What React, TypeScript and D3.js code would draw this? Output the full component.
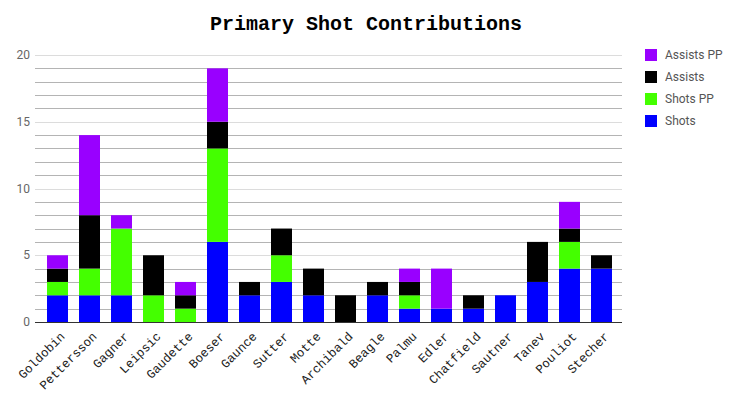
import { useEffect, useRef } from 'react'
import * as d3 from 'd3'

const players = ['Goldobin', 'Pettersson', 'Gagner', 'Leipsic', 'Gaudette', 'Boeser', 'Gaunce', 'Sutter', 'Motte', 'Archibald', 'Beagle', 'Palmu', 'Edler', 'Chatfield', 'Sautner', 'Tanev', 'Pouliot', 'Stecher']
const shots = [2, 2, 2, 0, 0, 6, 2, 3, 2, 0, 2, 1, 1, 1, 2, 3, 4, 4]
const shotsPP = [1, 2, 5, 2, 1, 7, 0, 2, 0, 0, 0, 1, 0, 0, 0, 0, 2, 0]
const assists = [1, 4, 0, 3, 1, 2, 1, 2, 2, 2, 1, 1, 0, 1, 0, 3, 1, 1]
const assistsPP = [1, 6, 1, 0, 1, 4, 0, 0, 0, 0, 0, 1, 3, 0, 0, 0, 2, 0]

const seriesNames = ['Shots', 'Shots PP', 'Assists', 'Assists PP']
const seriesColors = ['#0000ff', '#44ff00', '#000000', '#9900ff']

const W = 737
const H = 399

export default function App() {
  const svgRef = useRef<SVGSVGElement>(null)

  useEffect(() => {
    if (!svgRef.current) return
    const svg = d3.select(svgRef.current)
    svg.selectAll('*').remove()

    const rows = players.map((p, i) => ({
      name: p,
      'Shots': shots[i],
      'Shots PP': shotsPP[i],
      'Assists': assists[i],
      'Assists PP': assistsPP[i],
    }))
    const stacked = d3.stack<any>().keys(seriesNames)(rows)

    const x = d3.scaleBand().domain(players).range([36, 623]).padding(0.344)
    const y = d3.scaleLinear().domain([0, 20]).range([322, 55])

    // gridlines
    const g = svg.append('g')
    g.selectAll('line.grid')
      .data(d3.range(1, 21))
      .join('line')
      .attr('x1', 35)
      .attr('x2', 622)
      .attr('y1', d => Math.round(y(d)) + 0.5)
      .attr('y2', d => Math.round(y(d)) + 0.5)
      .attr('stroke', d => (d % 5 === 0 ? '#dcdcdc' : '#b4b4b4'))
      .attr('stroke-width', 1)

    g.selectAll('text.ytick')
      .data([0, 5, 10, 15, 20])
      .join('text')
      .attr('x', 30)
      .attr('y', d => y(d))
      .attr('dy', '0.35em')
      .attr('text-anchor', 'end')
      .attr('font-family', 'Roboto, sans-serif')
      .attr('font-size', 12)
      .attr('fill', '#666')
      .text(d => d)

    // bars
    g.selectAll('g.layer')
      .data(stacked)
      .join('g')
      .attr('fill', (_, i) => seriesColors[i])
      .selectAll('rect')
      .data(d => d.map(v => ({ v, name: v.data.name })))
      .join('rect')
      .attr('x', d => x(d.name)!)
      .attr('width', x.bandwidth())
      .attr('y', d => y(d.v[1]))
      .attr('height', d => y(d.v[0]) - y(d.v[1]))

    // baseline
    g.append('line')
      .attr('x1', 35)
      .attr('x2', 622)
      .attr('y1', 322.5)
      .attr('y2', 322.5)
      .attr('stroke', '#333')

    // x labels
    g.selectAll('text.xl')
      .data(players)
      .join('text')
      .attr('transform', d => `translate(${x(d)! + x.bandwidth() / 2 + 5},${334}) rotate(-45)`)
      .attr('text-anchor', 'end')
      .attr('dy', '0.35em')
      .attr('font-family', '"Courier New", Courier, "Liberation Mono", monospace')
      .attr('font-size', 12.5)
      .attr('fill', '#222')
      .text(d => d)

    // title
    svg.append('text')
      .attr('x', 366)
      .attr('y', 30)
      .attr('text-anchor', 'middle')
      .attr('font-family', '"Courier New", Courier, "Liberation Mono", monospace')
      .attr('font-weight', 'bold')
      .attr('font-size', 20)
      .attr('fill', '#000')
      .text('Primary Shot Contributions')

    // legend
    const legendOrder = [3, 2, 1, 0]
    const lg = svg.append('g')
    legendOrder.forEach((si, i) => {
      const cy = 55 + i * 22
      lg.append('rect')
        .attr('x', 645)
        .attr('y', cy - 6)
        .attr('width', 12)
        .attr('height', 12)
        .attr('fill', seriesColors[si])
      lg.append('text')
        .attr('x', 665)
        .attr('y', cy)
        .attr('dy', '0.35em')
        .attr('font-family', 'Roboto, sans-serif')
        .attr('font-size', 12)
        .attr('fill', '#555')
        .text(seriesNames[si])
    })
  }, [])

  return (
    <svg
      ref={svgRef}
      width={W}
      height={H}
      style={{ position: 'absolute', left: 0, top: 0, background: '#fff' }}
    />
  )
}
